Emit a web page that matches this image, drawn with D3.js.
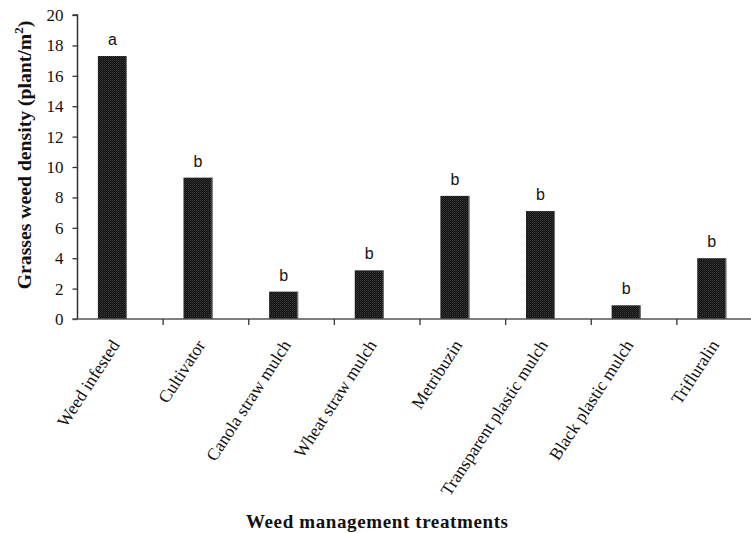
<!DOCTYPE html>
<html>
<head>
<meta charset="utf-8">
<script src="https://cdn.jsdelivr.net/npm/d3@7"></script>
<style>
  html, body { margin: 0; padding: 0; background: #fff; }
  svg { display: block; }
</style>
</head>
<body>
<svg id="chart" width="751" height="533"></svg>
<script>
// Grass weed density by weed management treatment
const categories = [
  "Weed infested", "Cultivator", "Canola straw mulch", "Wheat straw mulch",
  "Metribuzin", "Transparent plastic mulch", "Black plastic mulch", "Trifluralin"
];
const density = [17.3, 9.3, 1.8, 3.2, 8.1, 7.1, 0.9, 4.0];
const groupLetters = ["a", "b", "b", "b", "b", "b", "b", "b"];
const yTicks = [0, 2, 4, 6, 8, 10, 12, 14, 16, 18, 20];

const svg = d3.select("#chart");
const serif = "'Liberation Serif', 'Times New Roman', serif";
const sans = "'Liberation Sans', Arial, sans-serif";

const x0 = 77.5, x1 = 762.5, yBase = 319, yTop = 15;

const x = d3.scaleBand().domain(categories).range([x0, x1]).paddingInner(0).paddingOuter(0);
const y = d3.scaleLinear().domain([0, 20]).range([yBase, yTop]);

// fine dark texture for the bars
const defs = svg.append("defs");
const pat = defs.append("pattern")
  .attr("id", "barFill").attr("patternUnits", "userSpaceOnUse")
  .attr("width", 2).attr("height", 2);
pat.append("rect").attr("width", 2).attr("height", 2).attr("fill", "#101010");
pat.append("rect").attr("width", 1).attr("height", 1).attr("fill", "#3a3a3a");
pat.append("rect").attr("x", 1).attr("y", 1).attr("width", 1).attr("height", 1).attr("fill", "#2a2a2a");

const bw = x.bandwidth();
const barOffset = bw * 0.238, barWidth = bw * 0.339;

// bars
svg.append("g").selectAll("rect")
  .data(categories)
  .join("rect")
  .attr("x", (d) => x(d) + barOffset)
  .attr("y", (d, i) => y(density[i]))
  .attr("width", barWidth)
  .attr("height", (d, i) => y(0) - y(density[i]))
  .attr("fill", "url(#barFill)");

// right-edge shading on bars
svg.append("g").selectAll("line")
  .data(categories)
  .join("line")
  .attr("x1", (d) => x(d) + barOffset + barWidth - 0.5)
  .attr("x2", (d) => x(d) + barOffset + barWidth - 0.5)
  .attr("y1", (d, i) => y(density[i]))
  .attr("y2", y(0))
  .attr("stroke", "#777").attr("stroke-width", 1);

// significance letters
svg.append("g").selectAll("text")
  .data(categories)
  .join("text")
  .attr("x", (d) => x(d) + barOffset + barWidth / 2)
  .attr("y", (d, i) => y(density[i]) - 11)
  .attr("text-anchor", "middle")
  .attr("font-family", sans).attr("font-size", 16).attr("fill", "#111")
  .text((d, i) => groupLetters[i]);

// y axis
const yAxis = svg.append("g")
  .attr("transform", `translate(${x0},0)`)
  .call(d3.axisLeft(y).tickValues(yTicks).tickSize(5).tickPadding(9).tickFormat(d3.format("d")));
yAxis.select(".domain").attr("stroke", "#333").attr("stroke-width", 1.5)
  .attr("d", `M-5,${y(20)}H0V${y(0)}`);
yAxis.selectAll(".tick line").attr("stroke", "#333").attr("stroke-width", 1.3);
yAxis.selectAll(".tick text").attr("font-family", serif).attr("font-size", 17).attr("fill", "#111");

// x axis
const xAxis = svg.append("g")
  .attr("transform", `translate(0,${yBase})`);
xAxis.append("line")
  .attr("x1", x0 - 5).attr("x2", x1).attr("y1", 0).attr("y2", 0)
  .attr("stroke", "#555").attr("stroke-width", 1.5);
xAxis.selectAll("line.tick")
  .data(categories.slice(1))
  .join("line").attr("class", "tick")
  .attr("x1", (d) => x(d)).attr("x2", (d) => x(d))
  .attr("y1", 0).attr("y2", 6)
  .attr("stroke", "#333").attr("stroke-width", 1.3);
xAxis.selectAll("text")
  .data(categories)
  .join("text")
  .attr("transform", (d) => `translate(${x(d) + bw / 2},26) rotate(-57)`)
  .attr("text-anchor", "end")
  .attr("font-family", serif).attr("font-size", 17.5).attr("fill", "#111")
  .text((d) => d);

// axis titles
svg.append("text")
  .attr("x", 377).attr("y", 528)
  .attr("text-anchor", "middle")
  .attr("font-family", serif).attr("font-weight", "bold").attr("font-size", 19)
  .attr("textLength", 262).attr("lengthAdjust", "spacing")
  .attr("fill", "#111")
  .text("Weed management treatments");

const yTitle = svg.append("text")
  .attr("transform", "translate(31,155) rotate(-90)")
  .attr("text-anchor", "middle")
  .attr("font-family", serif).attr("font-weight", "bold").attr("font-size", 19.7)
  .attr("fill", "#111");
yTitle.append("tspan").text("Grasses weed density (plant/m");
yTitle.append("tspan").attr("font-size", 13).attr("dy", -8).text("2");
yTitle.append("tspan").attr("dy", 8).text(")");
</script>
</body>
</html>
